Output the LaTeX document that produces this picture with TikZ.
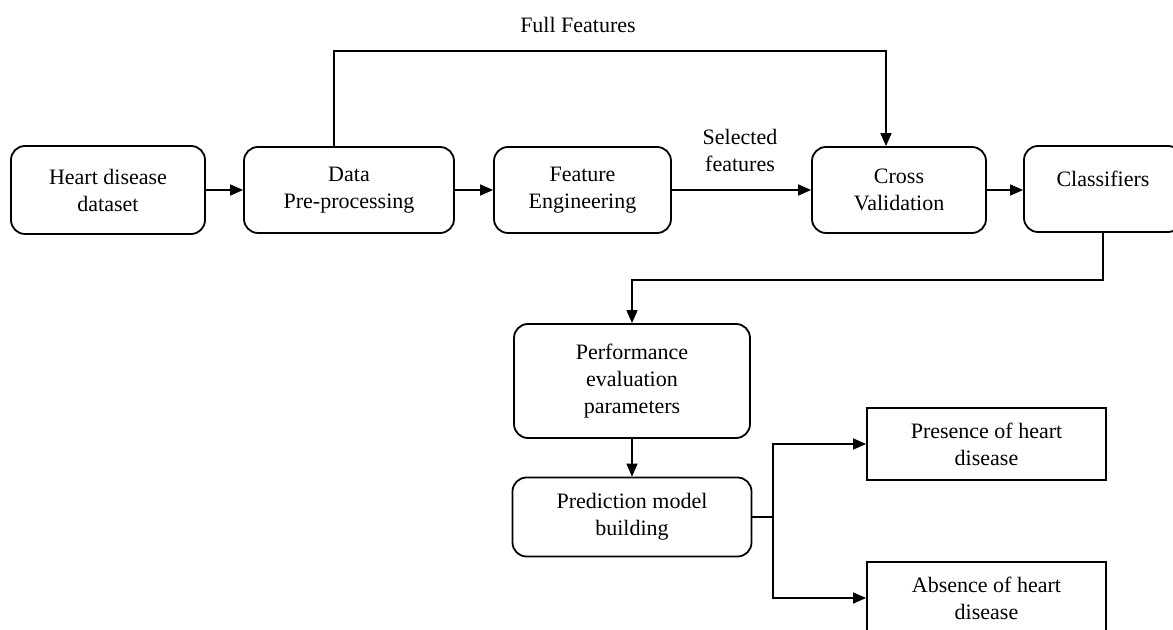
\documentclass[tikz,border=0pt]{standalone}
\usepackage{fontspec}
\setmainfont{Liberation Serif}
\usetikzlibrary{arrows.meta}
\tikzset{%
	block/.style    = {draw, line width=0.9pt, rectangle, rounded corners=7pt,
		align=center, inner sep=2pt},
	outcome/.style  = {draw, line width=0.9pt, rectangle, align=center,
		inner sep=2pt}, % Result
	conn/.style     = {line width=0.8pt, -{Triangle[length=6.5pt,width=5.5pt]}}, % Arrow
	plain/.style    = {line width=0.8pt} % Line
}

\begin{document}
\begin{tikzpicture}[x=0.5pt,y=-0.5pt,font=\fontsize{11}{13.5}\selectfont]
			\useasboundingbox (0,0) rectangle (1173,630);
			\node[block,minimum width=97pt,minimum height=44pt] (heart) at (108,190) {Heart disease\\dataset};
			\node[block,minimum width=105pt,minimum height=43pt] (data) at (349,190) {Data\\Pre-processing};
			\node[block,minimum width=88.5pt,minimum height=43pt] (feat) at (582.5,190) {Feature\\Engineering};
			\node[block,minimum width=87pt,minimum height=43pt] (cv) at (899,190) {Cross\\Validation};
			\node[block,minimum width=79pt,minimum height=43pt,text depth=10pt] (clf) at (1103,189) {Classifiers};
			\node[block,minimum width=118pt,minimum height=57pt] (perf) at (632,381) {Performance\\evaluation\\parameters};
			\node[block,minimum width=119.5pt,minimum height=39.5pt] (pred) at (632,517) {Prediction model\\building};
			\node[outcome,minimum width=119.5pt,minimum height=36pt] (yes) at (986.5,444) {Presence of heart\\disease};
			\node[outcome,minimum width=119.5pt,minimum height=36pt] (no) at (986.5,598) {Absence of heart\\disease};
			
			\node (fulltxt) at (578,25) {Full Features};
			\node[align=center] (seltxt) at (740,150) {Selected\\features};
			
			\coordinate (fullL) at (334,51);
			\coordinate (fullR) at (886,51);
			\coordinate (turn) at (632,280);
			\coordinate (split) at (773,517);
			
			\draw[conn] (heart) -- (data);
			\draw[conn] (data) -- (feat);
			\draw[conn] (feat) -- (cv);
			\draw[conn] (cv) -- (cv.east -| clf.west);
			\draw[conn] (fullL |- data.north) -- (fullL) -- (fullR) -- (fullR |- cv.north);
			\draw[conn] (clf.south) |- (turn) -- (perf.north);
			\draw[conn] (perf) -- (pred);
			\draw[plain] (pred) -- (split);
			\draw[conn] (split) |- (yes);
			\draw[conn] (split) |- (no);
		\end{tikzpicture}
\end{document}
